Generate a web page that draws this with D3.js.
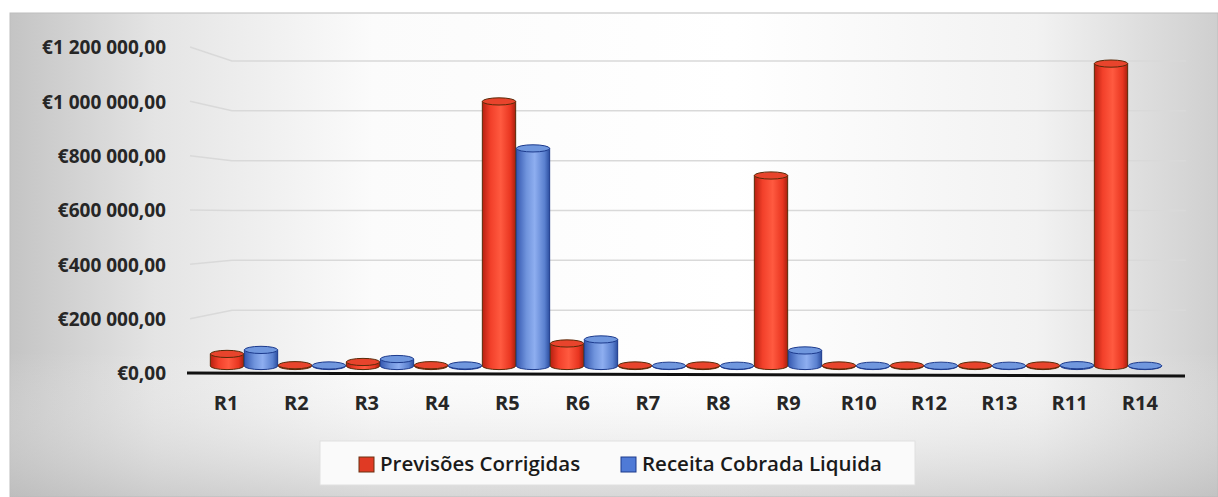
<!DOCTYPE html>
<html><head><meta charset="utf-8">
<script src="https://cdn.jsdelivr.net/npm/d3@7"></script>
<style>body{margin:0;background:#fff}svg{display:block}</style>
</head><body>
<script>
const categories = ["R1","R2","R3","R4","R5","R6","R7","R8","R9","R10","R12","R13","R11","R14"];
const previsoesCorrigidas = [45000, 3000, 15000, 3000, 986000, 84000, 2000, 2000, 710000, 2000, 2000, 2000, 2000, 1127000];
const receitaCobradaLiquida = [60000, 2000, 26000, 2000, 811000, 99000, 1000, 1000, 58000, 1000, 1000, 1000, 3000, 1000];
const seriesNames = ["Previsões Corrigidas", "Receita Cobrada Liquida"];
const yTicks = [0, 200000, 400000, 600000, 800000, 1000000, 1200000];

const W = 1218, H = 497;
const svg = d3.select("body").append("svg").attr("width", W).attr("height", H);
const defs = svg.append("defs");

// background gradients
const bg = defs.append("linearGradient").attr("id","bgH").attr("x1",0).attr("x2",1).attr("y1",0).attr("y2",0);
[[0,"#c4c4c4"],[0.12,"#e4e4e4"],[0.3,"#fbfbfb"],[0.6,"#ffffff"],[0.85,"#f2f2f2"],[1,"#cfcfcf"]]
  .forEach(([o,c])=>bg.append("stop").attr("offset",o).attr("stop-color",c));
const bgV = defs.append("linearGradient").attr("id","bgV").attr("x1",0).attr("x2",0).attr("y1",0).attr("y2",1);
[[0,"#ffffff",0.0],[0.7,"#ffffff",0.0],[1,"#b8b8b8",0.55]]
  .forEach(([o,c,a])=>bgV.append("stop").attr("offset",o).attr("stop-color",c).attr("stop-opacity",a));

function cylGrad(id, stops){
  const g = defs.append("linearGradient").attr("id",id).attr("x1",0).attr("x2",1).attr("y1",0).attr("y2",0);
  stops.forEach(([o,c])=>g.append("stop").attr("offset",o).attr("stop-color",c));
}
cylGrad("gRed", [[0,"#b82010"],[0.25,"#f2402a"],[0.55,"#ff5a40"],[0.85,"#e83520"],[1,"#a8200e"]]);
cylGrad("gBlue", [[0,"#3558b0"],[0.3,"#6f93dc"],[0.55,"#8eaef0"],[0.85,"#5a80cf"],[1,"#2c4ea0"]]);

svg.append("rect").attr("x",10).attr("y",13).attr("width",W-10).attr("height",H-13)
  .attr("fill","url(#bgH)").attr("stroke","#bdbdbd");
svg.append("rect").attr("x",10).attr("y",13).attr("width",W-10).attr("height",H-13)
  .attr("fill","url(#bgV)");

// scales
const y = d3.scaleLinear().domain([0, 1200000]).range([373, 47]);      // front (axis labels)
const yBar = d3.scaleLinear().domain([0, 1200000]).range([366, 44]);   // bars (mid depth)
const yBack = d3.scaleLinear().domain([0, 1200000]).range([360, 61]);  // back wall
const xLab = d3.scaleBand().domain(categories).range([191, 1175]);
const xBar = d3.scaleBand().domain(categories).range([210, 1162]);
const xSub = d3.scaleBand().domain(seriesNames).range([0, xBar.bandwidth()]).paddingInner(0.02).paddingOuter(0.01);

// gridlines (3D wall look)
const grid = svg.append("g");
yTicks.forEach(t=>{
  if (t===0) return;
  grid.append("path")
    .attr("d", `M190,${y(t)}L232,${yBack(t)}L1186,${yBack(t)}`)
    .attr("fill","none").attr("stroke","#d9d9d9").attr("stroke-width",1.5);
});

// y axis labels
const fmt = v => "€" + d3.format(",.2f")(v).replace(/,/g," ").replace(".", ",");
const yAxis = d3.axisLeft(y).tickValues(yTicks).tickSize(0).tickPadding(0).tickFormat(fmt);
const ya = svg.append("g").attr("transform","translate(166,0)").call(yAxis);
ya.select(".domain").remove();
ya.selectAll("text").attr("font-family","Open Sans").attr("font-weight","bold").attr("font-size",19)
  .attr("fill","#262626").attr("dy","0.36em");

// cylinders
const series = [
  {name: seriesNames[0], values: previsoesCorrigidas, fill:"url(#gRed)", top:"#e8442c", stroke:"#5a2a08"},
  {name: seriesNames[1], values: receitaCobradaLiquida, fill:"url(#gBlue)", top:"#7097de", stroke:"#1c3a8c"}
];
const bars = svg.append("g");
categories.forEach((c,i)=>{
  series.forEach(s=>{
    const x0 = xBar(c) + xSub(s.name);
    const w = xSub.bandwidth();
    const rx = w/2, ry = 3.6;
    const yt = yBar(s.values[i]), yb = yBar(0);
    bars.append("path")
      .attr("d", `M${x0},${yt}L${x0},${yb}A${rx},${ry} 0 0 0 ${x0+w},${yb}L${x0+w},${yt}Z`)
      .attr("fill", s.fill).attr("stroke", s.stroke).attr("stroke-width",1);
    bars.append("ellipse").attr("cx", x0+rx).attr("cy", yt).attr("rx", rx).attr("ry", ry)
      .attr("fill", s.top).attr("stroke", s.stroke).attr("stroke-width",1);
  });
});

// x axis line
svg.append("line").attr("x1",187).attr("x2",1185).attr("y1",373).attr("y2",376)
  .attr("stroke","#111").attr("stroke-width",3);

// x labels
const xAxis = d3.axisBottom(xLab).tickSize(0).tickPadding(0);
const xa = svg.append("g").attr("transform","translate(0,403)").call(xAxis);
xa.select(".domain").remove();
xa.selectAll("text").attr("font-family","Open Sans").attr("font-weight","bold").attr("font-size",20)
  .attr("fill","#262626").attr("dy","0.36em");

// legend
const lg = svg.append("g");
lg.append("rect").attr("x",320).attr("y",441).attr("width",595).attr("height",44)
  .attr("fill","#fafafa").attr("stroke","#e0e0e0");
const legItems = [
  {name: seriesNames[0], x: 359, fill:"#e03a24", stroke:"#6a3010"},
  {name: seriesNames[1], x: 621, fill:"#4f7ad6", stroke:"#1c3a8c"}
];
legItems.forEach(it=>{
  lg.append("rect").attr("x",it.x).attr("y",457).attr("width",15).attr("height",15)
    .attr("fill",it.fill).attr("stroke",it.stroke);
  lg.append("text").attr("x",it.x+21).attr("y",464).attr("dy","0.36em")
    .attr("font-family","Open Sans").attr("font-weight","600").attr("font-size",20.5)
    .attr("fill","#1a1a1a").text(it.name);
});
</script>
</body></html>
